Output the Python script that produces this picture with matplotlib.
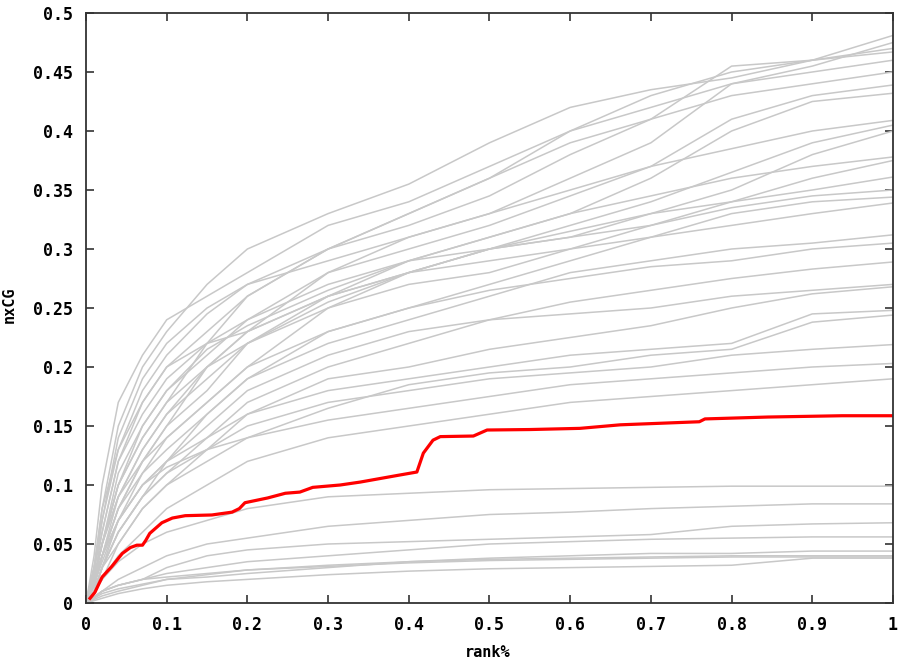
import numpy as np
import matplotlib.pyplot as plt

# rank% sample points shared by all gray runs
rank_grid = [0, 0.01, 0.02, 0.04, 0.07, 0.1, 0.15, 0.2, 0.3, 0.4, 0.5, 0.6, 0.7, 0.8, 0.9, 1.0]

# nxCG of the other runs (upper band)
upper_runs = [
    [0, 0.03, 0.08, 0.15, 0.20, 0.23, 0.27, 0.30, 0.33, 0.355, 0.39, 0.42, 0.435, 0.445, 0.46, 0.481],
    [0, 0.04, 0.10, 0.17, 0.21, 0.24, 0.26, 0.28, 0.32, 0.34, 0.37, 0.40, 0.42, 0.44, 0.455, 0.475],
    [0, 0.02, 0.05, 0.10, 0.14, 0.17, 0.22, 0.26, 0.30, 0.33, 0.36, 0.40, 0.43, 0.45, 0.46, 0.47],
    [0, 0.03, 0.06, 0.12, 0.17, 0.20, 0.23, 0.26, 0.30, 0.32, 0.345, 0.38, 0.41, 0.455, 0.46, 0.467],
    [0, 0.02, 0.04, 0.08, 0.12, 0.15, 0.20, 0.23, 0.28, 0.31, 0.33, 0.36, 0.39, 0.44, 0.45, 0.46],
    [0, 0.025, 0.07, 0.13, 0.18, 0.21, 0.245, 0.27, 0.30, 0.33, 0.36, 0.39, 0.41, 0.43, 0.44, 0.45],
    [0, 0.02, 0.05, 0.10, 0.15, 0.18, 0.21, 0.24, 0.28, 0.30, 0.32, 0.345, 0.37, 0.41, 0.43, 0.439],
    [0, 0.015, 0.04, 0.09, 0.13, 0.16, 0.19, 0.22, 0.26, 0.29, 0.31, 0.33, 0.36, 0.40, 0.425, 0.432],
    [0, 0.03, 0.07, 0.14, 0.19, 0.22, 0.25, 0.27, 0.29, 0.31, 0.33, 0.35, 0.37, 0.385, 0.40, 0.409],
    [0, 0.02, 0.05, 0.11, 0.15, 0.18, 0.215, 0.235, 0.265, 0.29, 0.30, 0.32, 0.34, 0.365, 0.39, 0.405],
    [0, 0.01, 0.03, 0.07, 0.11, 0.14, 0.17, 0.20, 0.25, 0.28, 0.30, 0.31, 0.33, 0.35, 0.38, 0.40],
    [0, 0.02, 0.06, 0.12, 0.16, 0.19, 0.22, 0.24, 0.27, 0.29, 0.31, 0.33, 0.345, 0.36, 0.37, 0.378],
    [0, 0.03, 0.08, 0.13, 0.17, 0.20, 0.22, 0.23, 0.26, 0.28, 0.30, 0.31, 0.32, 0.34, 0.36, 0.375],
    [0, 0.015, 0.04, 0.08, 0.12, 0.15, 0.18, 0.22, 0.255, 0.28, 0.30, 0.315, 0.33, 0.34, 0.35, 0.361],
    [0, 0.02, 0.05, 0.10, 0.14, 0.17, 0.20, 0.22, 0.25, 0.27, 0.28, 0.30, 0.32, 0.335, 0.345, 0.35],
    [0, 0.01, 0.03, 0.06, 0.09, 0.12, 0.16, 0.19, 0.23, 0.25, 0.27, 0.29, 0.31, 0.33, 0.34, 0.344],
    [0, 0.02, 0.05, 0.09, 0.13, 0.16, 0.20, 0.23, 0.26, 0.28, 0.29, 0.30, 0.31, 0.32, 0.33, 0.339],
]

# middle band
middle_runs = [
    [0, 0.015, 0.04, 0.08, 0.11, 0.13, 0.16, 0.19, 0.22, 0.24, 0.26, 0.28, 0.29, 0.30, 0.305, 0.312],
    [0, 0.02, 0.05, 0.09, 0.12, 0.14, 0.17, 0.20, 0.23, 0.25, 0.265, 0.275, 0.285, 0.29, 0.30, 0.305],
    [0, 0.01, 0.03, 0.06, 0.09, 0.11, 0.14, 0.17, 0.20, 0.22, 0.24, 0.255, 0.265, 0.275, 0.283, 0.289],
    [0, 0.02, 0.04, 0.07, 0.10, 0.12, 0.15, 0.18, 0.21, 0.23, 0.24, 0.245, 0.25, 0.26, 0.265, 0.27],
    [0, 0.01, 0.03, 0.05, 0.08, 0.10, 0.13, 0.16, 0.19, 0.20, 0.215, 0.225, 0.235, 0.25, 0.262, 0.268],
    [0, 0.015, 0.035, 0.07, 0.10, 0.12, 0.14, 0.16, 0.18, 0.19, 0.20, 0.21, 0.215, 0.22, 0.245, 0.248],
    [0, 0.01, 0.02, 0.05, 0.08, 0.10, 0.12, 0.14, 0.165, 0.185, 0.195, 0.20, 0.21, 0.215, 0.238, 0.244],
    [0, 0.01, 0.03, 0.06, 0.09, 0.11, 0.13, 0.15, 0.17, 0.18, 0.19, 0.195, 0.20, 0.21, 0.215, 0.219],
    [0, 0.015, 0.04, 0.07, 0.10, 0.115, 0.13, 0.14, 0.155, 0.165, 0.175, 0.185, 0.19, 0.195, 0.20, 0.203],
    [0, 0.01, 0.02, 0.04, 0.06, 0.08, 0.10, 0.12, 0.14, 0.15, 0.16, 0.17, 0.175, 0.18, 0.185, 0.19],
]

# lower band
lower_runs = [
    [0, 0.01, 0.02, 0.035, 0.05, 0.06, 0.07, 0.08, 0.09, 0.093, 0.096, 0.097, 0.098, 0.099, 0.099, 0.099],
    [0, 0.005, 0.01, 0.02, 0.03, 0.04, 0.05, 0.055, 0.065, 0.07, 0.075, 0.077, 0.08, 0.082, 0.084, 0.084],
    [0, 0.005, 0.01, 0.015, 0.02, 0.03, 0.04, 0.045, 0.05, 0.052, 0.054, 0.056, 0.058, 0.065, 0.067, 0.068],
    [0, 0.005, 0.01, 0.015, 0.02, 0.025, 0.03, 0.035, 0.04, 0.045, 0.05, 0.052, 0.054, 0.055, 0.056, 0.056],
    [0, 0.003, 0.006, 0.01, 0.015, 0.02, 0.022, 0.025, 0.03, 0.035, 0.038, 0.04, 0.042, 0.042, 0.044, 0.044],
    [0, 0.005, 0.01, 0.015, 0.02, 0.022, 0.025, 0.028, 0.032, 0.035, 0.037, 0.038, 0.039, 0.04, 0.04, 0.04],
    [0, 0.004, 0.008, 0.012, 0.016, 0.02, 0.024, 0.028, 0.031, 0.034, 0.036, 0.037, 0.038, 0.039, 0.039, 0.039],
    [0, 0.002, 0.004, 0.008, 0.012, 0.015, 0.018, 0.02, 0.024, 0.027, 0.029, 0.03, 0.031, 0.032, 0.038, 0.038],
]

# highlighted run
red_x = [0.005, 0.011, 0.02, 0.032, 0.045, 0.055, 0.063, 0.07, 0.074, 0.079, 0.094, 0.107, 0.123,
         0.156, 0.181, 0.19, 0.197, 0.225, 0.247, 0.265, 0.281, 0.315, 0.34, 0.385, 0.41, 0.418,
         0.43, 0.439, 0.48, 0.497, 0.55, 0.612, 0.662, 0.76, 0.767, 0.845, 0.937, 1.0]
red_y = [0.004, 0.009, 0.022, 0.031, 0.042, 0.047, 0.049, 0.049, 0.053, 0.059, 0.068, 0.072, 0.074,
         0.0746, 0.077, 0.080, 0.085, 0.089, 0.093, 0.094, 0.098, 0.100, 0.1025, 0.108, 0.111, 0.127,
         0.138, 0.141, 0.1415, 0.1466, 0.147, 0.148, 0.151, 0.1536, 0.156, 0.1576, 0.1587, 0.1587]

plt.rcParams['font.family'] = 'DejaVu Sans Mono'
plt.rcParams['font.weight'] = 'bold'

fig = plt.figure(figsize=(9, 6.62), dpi=100)
ax = fig.add_axes([86 / 900, 59 / 662, 807 / 900, 590 / 662])

for run in upper_runs + middle_runs + lower_runs:
    ax.plot(rank_grid, run, color='#c8c8c8', lw=1.1)
ax.plot(red_x, red_y, color='#ff0000', lw=2.3)

ax.set_xlim(0, 1)
ax.set_ylim(0, 0.5)
ax.set_xticks(np.arange(0, 1.01, 0.1))
ax.set_yticks(np.arange(0, 0.501, 0.05))
ax.set_xticklabels(['0'] + ['%.1f' % v for v in np.arange(0.1, 0.95, 0.1)] + ['1'])
ax.set_yticklabels(['0'] + ['%g' % round(v, 2) for v in np.arange(0.05, 0.501, 0.05)])
ax.tick_params(direction='in', length=6, width=1.2, color='#333333',
               top=True, right=True, labelsize=12, pad=9)
for s in ax.spines.values():
    s.set_color('#333333')
    s.set_linewidth(1.3)

ax.set_xlabel('rank%', fontsize=11, fontweight='bold')
ax.set_ylabel('nxCG', fontsize=11, fontweight='bold')
ax.xaxis.set_label_coords(0.498, -0.072)
ax.yaxis.set_label_coords(-0.086, 0.505)

fig.savefig('out.png', dpi=100)
